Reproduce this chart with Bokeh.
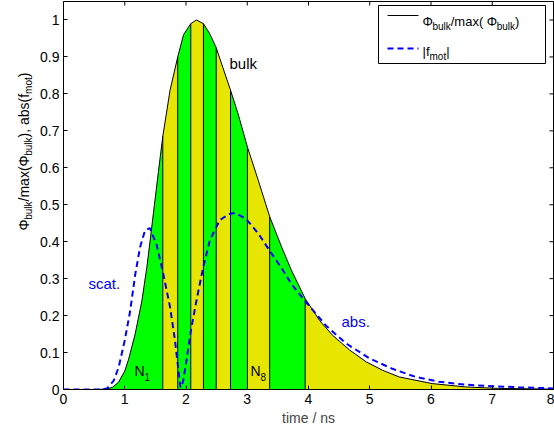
import numpy as np
from bokeh.plotting import figure
from bokeh.layouts import row
from bokeh.models import Range1d, FixedTicker, Label
from bokeh.embed import file_html
from bokeh.resources import INLINE

# ---------------- data ----------------
time_ns = [0.0, 0.5, 0.7, 0.8, 0.9, 1.0, 1.06, 1.17, 1.28, 1.36, 1.42, 1.47, 1.55,
           1.621, 1.74, 1.865, 1.96, 2.078, 2.17, 2.285, 2.39, 2.493, 2.60, 2.727,
           2.85, 3.003, 3.18, 3.366, 3.56, 3.72, 3.946, 4.18, 4.39, 4.67, 4.94,
           5.21, 5.48, 6.02, 6.56, 7.1, 8.0]
bulk_norm = [0.0, 0.0, 0.001, 0.006, 0.02, 0.05, 0.08, 0.15, 0.24, 0.33, 0.41, 0.48, 0.59,
             0.685, 0.81, 0.90, 0.96, 0.99, 1.0, 0.99, 0.962, 0.925, 0.872, 0.81,
             0.746, 0.656, 0.566, 0.468, 0.386, 0.323, 0.246, 0.187, 0.147, 0.107, 0.075,
             0.052, 0.034, 0.016, 0.007, 0.003, 0.001]

fmot_time = [0.0, 0.6, 0.71, 0.82, 0.9, 1.0, 1.09, 1.17, 1.25, 1.33, 1.41, 1.52, 1.63,
             1.74, 1.82, 1.87, 1.91, 1.95, 2.0, 2.08, 2.17, 2.28, 2.39, 2.55, 2.70,
             2.80, 2.98, 3.18, 3.36, 3.55, 3.72, 3.93, 4.02, 4.29, 4.61, 4.99, 5.37,
             5.75, 6.13, 6.56, 7.0, 7.43, 8.0]
fmot_abs = [0.0, 0.0, 0.003, 0.024, 0.06, 0.133, 0.214, 0.31, 0.385, 0.43, 0.437, 0.392, 0.312,
            0.223, 0.133, 0.061, 0.005, 0.02, 0.07, 0.16, 0.24, 0.33, 0.404, 0.458, 0.475,
            0.478, 0.462, 0.422, 0.377, 0.331, 0.286, 0.242, 0.225, 0.172, 0.125, 0.085, 0.056,
            0.034, 0.021, 0.013, 0.009, 0.006, 0.003]

# time-gate boundaries (ns) separating N1 ... N10
gate_bounds = [1.621, 1.865, 2.078, 2.285, 2.493, 2.727, 3.003, 3.366, 3.946]
gate_colors = ["#00FF00", "#E6E600"]

x_ticks = [0, 1, 2, 3, 4, 5, 6, 7, 8]
x_tick_labels = ["0", "1", "2", "3", "4", "5", "6", "7", "8"]
y_ticks = [0, 0.1, 0.2, 0.3, 0.4, 0.5, 0.6, 0.7, 0.8, 0.9, 1]
y_tick_labels = ["0", "0.1", "0.2", "0.3", "0.4", "0.5", "0.6", "0.7", "0.8", "0.9", "1"]

# ---------------- layout ----------------
W, H = 554, 433
LW = 34                        # strip holding the rotated y-axis title
BL, BR, BT, BB = 63, 1, 1, 44  # frame margins, page pixels
XMAX, YMAX = 8.0, 1.05
FW, FH = W - BL - BR, H - BT - BB
FONT = "Liberation Sans"
TICK = 4  # px, inward


def dx(px):
    return (px - BL) / FW * XMAX


def dy(py):
    return (H - BB - py) / FH * YMAX


p = figure(width=W - LW, height=H, x_range=Range1d(0, XMAX), y_range=Range1d(0, YMAX),
           output_backend="svg", toolbar_location=None,
           min_border_left=BL - LW, min_border_right=BR, min_border_top=BT, min_border_bottom=BB)
p.background_fill_color = "white"
p.border_fill_color = "white"
p.outline_line_color = "black"
p.outline_line_width = 1
p.xgrid.visible = False
p.ygrid.visible = False

for ax, ticks, labels in ((p.xaxis[0], x_ticks, x_tick_labels), (p.yaxis[0], y_ticks, y_tick_labels)):
    ax.ticker = FixedTicker(ticks=ticks)
    ax.major_label_overrides = {t: l for t, l in zip(ticks, labels)}
    ax.major_tick_in = TICK
    ax.major_tick_out = 0
    ax.minor_tick_line_color = None
    ax.axis_line_color = "black"
    ax.major_tick_line_color = "black"
    ax.major_label_text_font = FONT
    ax.major_label_text_font_size = "14px"
    ax.major_label_text_color = "black"
    ax.major_label_standoff = 5

p.xaxis[0].axis_label = "time / ns"
p.xaxis[0].axis_label_text_font = FONT
p.xaxis[0].axis_label_text_font_size = "14px"
p.xaxis[0].axis_label_text_font_style = "normal"
p.xaxis[0].axis_label_standoff = 3
p.xaxis[0].major_label_standoff = 4
p.yaxis[0].major_label_standoff = 4

# ticks on the top and right edges of the box (inward)
ty = YMAX * TICK / FH
tx = XMAX * TICK / FW
p.segment(x0=x_ticks, y0=[YMAX] * len(x_ticks), x1=x_ticks, y1=[YMAX - ty] * len(x_ticks),
          line_color="black", line_width=1)
p.segment(x0=[XMAX] * len(y_ticks), y0=y_ticks, x1=[XMAX - tx] * len(y_ticks), y1=y_ticks,
          line_color="black", line_width=1)

# ---------------- gated areas under the bulk curve ----------------
t = np.array(time_ns)
v = np.array(bulk_norm)
edges = [0.0] + gate_bounds + [XMAX]
for i in range(len(edges) - 1):
    a, b = edges[i], edges[i + 1]
    m = (t >= a - 1e-9) & (t <= b + 1e-9)
    p.varea(x=t[m], y1=np.zeros(m.sum()), y2=v[m], fill_color=gate_colors[i % 2])

bv = [v[np.isclose(t, b)][0] for b in gate_bounds]
p.segment(x0=gate_bounds, y0=[0] * len(gate_bounds), x1=gate_bounds, y1=bv,
          line_color="black", line_width=1)

p.line(time_ns, bulk_norm, line_color="black", line_width=1)
p.line(fmot_time, fmot_abs, line_color="#0000FF", line_width=2, line_dash="6 4")

# ---------------- text helpers ----------------
WID = {' ': 0.278, '(': 0.333, ')': 0.333, ',': 0.278, '.': 0.278, '/': 0.278, '|': 0.26,
       'a': 0.556, 'b': 0.556, 'c': 0.5, 'f': 0.278, 'k': 0.5, 'l': 0.222, 'm': 0.833,
       'o': 0.556, 's': 0.5, 't': 0.278, 'u': 0.556, 'x': 0.5, 'Φ': 0.76, 'N': 0.722,
       '1': 0.556, '8': 0.556}


def twidth(s, size):
    return sum(WID.get(c, 0.556) for c in s) * size


def rich(fig, segments, x0, y0, size, sub_size, sub_shift, color="black",
         vertical=False, to_units=None):
    """segments: list of (text, is_sub). x0,y0: start in page pixels (from top-left)."""
    pos = 0.0
    for txt, sub in segments:
        fs = sub_size if sub else size
        if vertical:
            x = x0 + (sub_shift if sub else 0)
            y = y0 - pos
            ang = np.pi / 2
        else:
            x = x0 + pos
            y = y0 + (sub_shift if sub else 0)
            ang = 0
        ux, uy = to_units(x, y)
        fig.add_layout(Label(x=ux, y=uy, x_units="screen", y_units="screen",
                             text=txt, angle=ang, text_font=FONT,
                             text_font_size=f"{fs}px", text_color=color,
                             text_align="left", text_baseline="alphabetic"))
        pos += twidth(txt, fs)
    return pos


def main_units(x, y):
    # screen units are relative to the frame (origin: frame bottom-left)
    return x - BL, (H - BB) - y


# annotations in the plot
rich(p, [("bulk", False)], 229, 63, 15, 10, 0, to_units=main_units)
rich(p, [("scat.", False)], 88, 283, 15, 10, 0, color="#0000FF", to_units=main_units)
rich(p, [("abs.", False)], 341, 321, 15, 10, 0, color="#0000FF", to_units=main_units)
rich(p, [("N", False), ("1", True)], 134, 370, 14, 10, 6, to_units=main_units)
rich(p, [("N", False), ("8", True)], 250, 370, 14, 10, 6, to_units=main_units)

# legend
p.quad(left=dx(378), right=dx(545), top=dy(5), bottom=dy(63),
       fill_color="white", line_color="black", line_width=1)
p.line([dx(387), dx(418)], [dy(15), dy(15)], line_color="black", line_width=1)
p.line([dx(387), dx(418)], [dy(48), dy(48)], line_color="#0000FF", line_width=2, line_dash="6 4")
rich(p, [("Φ", False), ("bulk", True), ("/max( Φ", False), ("bulk", True), ("  )", False)],
     422, 21, 13, 10, 5, to_units=main_units)
rich(p, [("|f", False), ("mot", True), ("|", False)], 422, 51, 13, 10, 5, to_units=main_units)

# ---------------- strip with the rotated y-axis title ----------------
q = figure(width=LW, height=H, x_range=Range1d(0, LW), y_range=Range1d(0, H),
           output_backend="svg", toolbar_location=None, x_axis_type=None, y_axis_type=None,
           min_border_left=0, min_border_right=0, min_border_top=0, min_border_bottom=0)
q.outline_line_color = None
q.background_fill_color = "white"
q.border_fill_color = "white"


def strip_units(x, y):
    return x, H - y


ylab = [("Φ", False), ("bulk", True), ("/max(Φ", False), ("bulk", True),
        ("), abs(f", False), ("mot", True), (")", False)]
total = sum(twidth(s, 10 if sb else 14) for s, sb in ylab)
rich(q, ylab, 23, 195 + total / 2, 14, 10, 5, vertical=True, to_units=strip_units)

layout = row(q, p, spacing=0)
open("out.html", "w").write(file_html(layout, INLINE))
